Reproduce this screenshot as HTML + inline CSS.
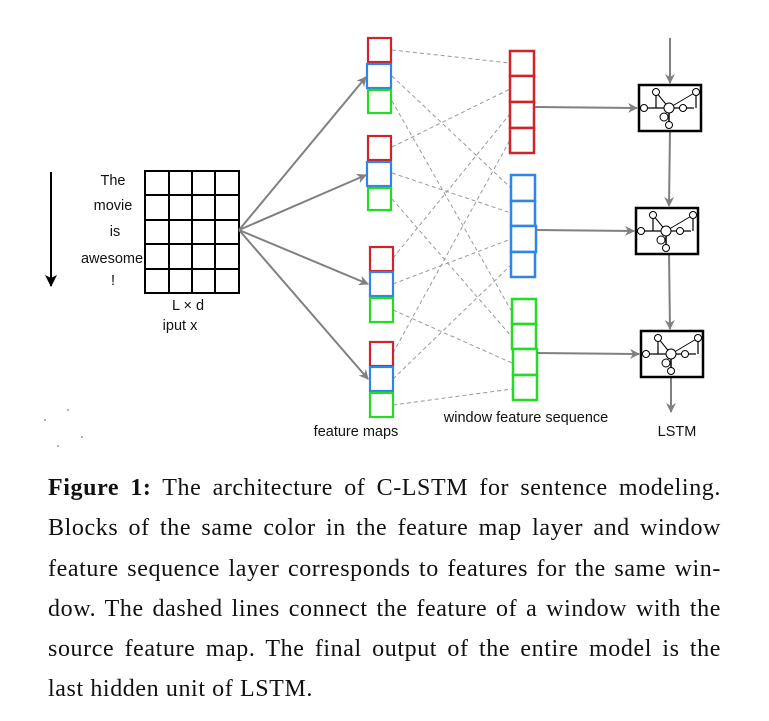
<!DOCTYPE html>
<html><head><meta charset="utf-8"><style>
body{margin:0;background:#fff;width:769px;height:721px;overflow:hidden;position:relative}
svg{position:absolute;left:0;top:0}
.cap{position:absolute;left:48px;top:468px;width:673px;font-family:"Liberation Serif",serif;font-size:24px;letter-spacing:0.6px;line-height:40.3px;color:#111}
.cap div{text-align:justify;text-align-last:justify;white-space:nowrap}
.cap div.l{text-align-last:left}
</style></head><body>
<svg width="769" height="460" viewBox="0 0 769 460" font-family="Liberation Sans, sans-serif">
<defs>
<marker id="ag" markerWidth="10" markerHeight="10" refX="9" refY="5" orient="auto" markerUnits="userSpaceOnUse"><path d="M0,0 L10,5 L0,10 L3,5z" fill="#808080"/></marker>
<marker id="ab" markerWidth="12" markerHeight="12" refX="11" refY="6" orient="auto" markerUnits="userSpaceOnUse"><path d="M0,0 L12,6 L0,12 L3,6z" fill="#000"/></marker>
<g id="cell">
<rect x="0" y="0" width="62" height="46" fill="#fff" stroke="#000" stroke-width="2.5"/>
<line x1="5" y1="23" x2="55" y2="23" stroke="#000" stroke-width="1.2"/>
<line x1="17" y1="7" x2="17" y2="23" stroke="#000" stroke-width="1.2"/>
<line x1="57" y1="7" x2="57" y2="23" stroke="#000" stroke-width="1.2"/>
<line x1="17" y1="7" x2="30" y2="23" stroke="#000" stroke-width="1"/>
<line x1="57" y1="7" x2="30" y2="23" stroke="#000" stroke-width="1"/>
<line x1="30" y1="23" x2="30" y2="40" stroke="#000" stroke-width="1.5"/>
<circle cx="17" cy="7" r="3.5" fill="#fff" stroke="#000"/>
<circle cx="57" cy="7" r="3.5" fill="#fff" stroke="#000"/>
<circle cx="5" cy="23" r="3.5" fill="#fff" stroke="#000"/>
<circle cx="30" cy="23" r="5" fill="#fff" stroke="#000"/>
<circle cx="44" cy="23" r="3.5" fill="#fff" stroke="#000"/>
<circle cx="25" cy="32" r="4" fill="none" stroke="#000"/>
<circle cx="30" cy="40" r="3.5" fill="#fff" stroke="#000"/>
</g>
</defs>
<line x1="51" y1="172" x2="51" y2="286" stroke="#000" stroke-width="2" marker-end="url(#ab)"/>
<g font-size="14.5" fill="#111" text-anchor="middle">
<text x="113" y="185">The</text><text x="113" y="210">movie</text><text x="115" y="236">is</text><text x="112" y="263">awesome</text><text x="113" y="285">!</text>
<text x="188" y="310">L × d</text><text x="180" y="330">iput x</text>
<text x="356" y="436">feature maps</text><text x="526" y="422">window feature sequence</text><text x="677" y="436">LSTM</text>
</g>
<g stroke="#000" stroke-width="2" fill="none">
<rect x="145" y="171" width="94" height="122"/>
<line x1="169" y1="171" x2="169" y2="293"/><line x1="192" y1="171" x2="192" y2="293"/><line x1="215" y1="171" x2="215" y2="293"/>
<line x1="145" y1="195" x2="239" y2="195"/><line x1="145" y1="220" x2="239" y2="220"/><line x1="145" y1="244" x2="239" y2="244"/><line x1="145" y1="269" x2="239" y2="269"/>
</g>
<g stroke="#808080" stroke-width="2" marker-end="url(#ag)">
<line x1="239" y1="230" x2="366" y2="77"/><line x1="239" y1="230" x2="366" y2="175"/>
<line x1="239" y1="230" x2="368" y2="284"/><line x1="239" y1="230" x2="368" y2="379"/>
</g>
<g stroke="#999" stroke-width="1" stroke-dasharray="4,3">
<line x1="392" y1="50" x2="510" y2="63"/><line x1="392" y1="147" x2="510" y2="89"/><line x1="393" y1="258" x2="510" y2="114"/><line x1="393" y1="353" x2="510" y2="140"/>
<line x1="392" y1="76" x2="511" y2="188"/><line x1="392" y1="173" x2="511" y2="213"/><line x1="393" y1="284" x2="511" y2="239"/><line x1="393" y1="379" x2="511" y2="265"/>
<line x1="392" y1="101" x2="512" y2="312"/><line x1="392" y1="199" x2="512" y2="337"/><line x1="393" y1="310" x2="512" y2="363"/><line x1="393" y1="405" x2="512" y2="389"/>
</g>
<g fill="#fff" stroke-width="2.2">
<g stroke="#d0242a"><rect x="368" y="38" width="23" height="24"/><rect x="368" y="136" width="23" height="24"/><rect x="370" y="247" width="23" height="24"/><rect x="370" y="342" width="23" height="24"/></g>
<g stroke="#2f86e6"><rect x="367" y="64" width="24" height="24"/><rect x="367" y="162" width="24" height="24"/><rect x="370" y="272" width="23" height="24"/><rect x="370" y="367" width="23" height="24"/></g>
<g stroke="#22dd22"><rect x="368" y="90" width="23" height="23"/><rect x="368" y="188" width="23" height="22"/><rect x="370" y="298" width="23" height="24"/><rect x="370" y="393" width="23" height="24"/></g>
</g>
<g fill="#fff" stroke-width="2.5">
<g stroke="#d0242a"><rect x="510" y="51" width="24" height="25"/><rect x="510" y="76" width="24" height="26"/><rect x="510" y="102" width="24" height="26"/><rect x="510" y="128" width="24" height="25"/></g>
<g stroke="#2f86e6"><rect x="511" y="175" width="24" height="26"/><rect x="511" y="201" width="24" height="25"/><rect x="511" y="226" width="25" height="26"/><rect x="511" y="252" width="24" height="25"/></g>
<g stroke="#22dd22"><rect x="512" y="299" width="24" height="25"/><rect x="512" y="324" width="24" height="25"/><rect x="513" y="349" width="24" height="26"/><rect x="513" y="375" width="24" height="25"/></g>
</g>
<g stroke="#808080" stroke-width="2" marker-end="url(#ag)">
<line x1="535" y1="107" x2="637" y2="108"/><line x1="536" y1="230" x2="634" y2="231"/><line x1="537" y1="353" x2="639" y2="354"/>
<line x1="670" y1="38" x2="670" y2="83"/><line x1="670" y1="131" x2="669" y2="206"/><line x1="669" y1="253" x2="670" y2="329"/><line x1="671" y1="377" x2="671" y2="412"/>
</g>
<use href="#cell" x="639" y="85"/><use href="#cell" x="636" y="208"/><use href="#cell" x="641" y="331"/>
<g fill="#555"><circle cx="45" cy="420" r="0.8"/><circle cx="68" cy="410" r="0.8"/><circle cx="58" cy="446" r="0.8"/><circle cx="82" cy="437" r="0.8"/></g>
</svg>
<div class="cap">
<div><b>Figure 1:</b> The architecture of C-LSTM for sentence modeling.</div>
<div>Blocks of the same color in the feature map layer and window</div>
<div>feature sequence layer corresponds to features for the same win-</div>
<div>dow. The dashed lines connect the feature of a window with the</div>
<div>source feature map. The final output of the entire model is the</div>
<div class="l">last hidden unit of LSTM.</div>
</div>
</body></html>
